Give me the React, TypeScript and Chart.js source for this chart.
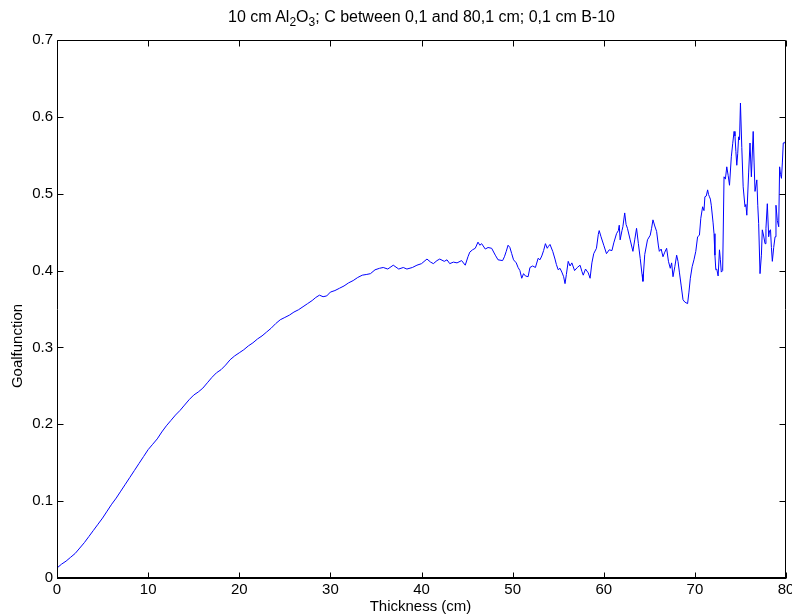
import { useEffect, useRef } from "react";
import { Chart, registerables } from "chart.js";

Chart.register(...registerables);

// Goal function versus carbon thickness
const thicknessCm = [
  0, 0.5, 1, 1.5, 2, 2.5, 3, 3.5, 4, 4.5, 5, 5.5, 6, 6.5, 7, 7.5, 8, 8.5, 9, 9.5,
  10, 10.5, 11, 11.5, 12, 12.5, 13, 13.5, 14, 14.5, 15, 15.5, 16, 16.5, 17, 17.5, 18, 18.5, 19, 19.5,
  20, 20.5, 21, 21.5, 22, 22.5, 23, 23.5, 24, 24.5, 25, 25.5, 26, 26.5, 27, 27.5, 28, 28.4, 28.8, 29.2,
  29.6, 30, 30.5, 31, 31.5, 32, 32.5, 33, 33.5, 34, 34.4, 34.9, 35.4, 35.8, 36.3, 36.9, 37.5, 38, 38.4, 39,
  39.5, 40, 40.6, 41, 41.3, 41.7, 42, 42.5, 42.8, 43.1, 43.5, 43.9, 44.4, 44.8, 45.1, 45.3, 45.6, 45.9, 46.2, 46.4,
  46.6, 47, 47.3, 47.7, 48.1, 48.4, 48.9, 49.1, 49.3, 49.5, 49.7, 49.9, 50.1, 50.4, 50.6, 50.8, 51, 51.2, 51.4, 51.7,
  51.9, 52.2, 52.5, 52.8, 53, 53.2, 53.4, 53.6, 53.8, 53.9, 54.1, 54.4, 54.65, 54.8, 55, 55.2, 55.4, 55.6, 55.75, 55.9,
  56.1, 56.3, 56.5, 56.8, 57.1, 57.4, 57.6, 57.75, 58, 58.3, 58.5, 58.7, 58.9, 59.2, 59.4, 59.5, 59.7, 60, 60.3, 60.6,
  60.9, 61.1, 61.4, 61.6, 61.7, 61.8, 62, 62.1, 62.3, 62.45, 62.6, 62.9, 63.2, 63.4, 63.6, 63.8, 64, 64.2, 64.3, 64.5,
  64.8, 65.1, 65.25, 65.4, 65.6, 65.8, 66, 66.1, 66.3, 66.5, 66.7, 66.9, 67.1, 67.3, 67.45, 67.6, 67.8, 68, 68.15, 68.3,
  68.5, 68.7, 68.9, 69.2, 69.35, 69.5, 69.7, 69.9, 70.1, 70.3, 70.5, 70.65, 70.85, 71, 71.1, 71.25, 71.4, 71.5, 71.6, 71.7,
  71.8, 72, 72.1, 72.2, 72.3, 72.4, 72.55, 72.7, 72.8, 72.9, 73.05, 73.2, 73.35, 73.5, 73.65, 73.8, 74, 74.15, 74.3, 74.4,
  74.5, 74.6, 74.7, 74.8, 74.9, 75, 75.15, 75.3, 75.5, 75.6, 75.7, 75.9, 76.05, 76.2, 76.4, 76.5, 76.6, 76.8, 76.9, 77,
  77.15, 77.3, 77.4, 77.55, 77.7, 77.8, 77.95, 78.1, 78.2, 78.3, 78.4, 78.5, 78.65, 78.8, 78.9, 79.05, 79.2, 79.3, 79.4, 79.5,
  79.6, 79.7, 79.85, 80,
];

const goalValues = [
  0.013, 0.018, 0.022, 0.027, 0.032, 0.039, 0.046, 0.054, 0.062, 0.07, 0.078, 0.087, 0.096, 0.104, 0.113, 0.122, 0.131, 0.14, 0.149, 0.158,
  0.167, 0.174, 0.181, 0.19, 0.198, 0.205, 0.212, 0.218, 0.225, 0.232, 0.238, 0.242, 0.247, 0.254, 0.261, 0.267, 0.271, 0.277, 0.284, 0.289,
  0.293, 0.297, 0.302, 0.306, 0.311, 0.315, 0.32, 0.325, 0.331, 0.336, 0.339, 0.342, 0.346, 0.349, 0.353, 0.357, 0.361, 0.365, 0.368, 0.366,
  0.367, 0.372, 0.374, 0.377, 0.38, 0.384, 0.387, 0.391, 0.394, 0.395, 0.396, 0.401, 0.403, 0.404, 0.402, 0.407, 0.402, 0.404, 0.402, 0.404,
  0.407, 0.409, 0.415, 0.411, 0.409, 0.413, 0.415, 0.412, 0.414, 0.409, 0.411, 0.41, 0.413, 0.407, 0.418, 0.424, 0.427, 0.429, 0.437, 0.433,
  0.435, 0.428, 0.43, 0.429, 0.42, 0.414, 0.413, 0.418, 0.425, 0.433, 0.43, 0.422, 0.414, 0.41, 0.404, 0.4, 0.39, 0.396, 0.393, 0.392,
  0.404, 0.406, 0.404, 0.416, 0.414, 0.419, 0.426, 0.435, 0.429, 0.431, 0.434, 0.425, 0.415, 0.408, 0.401, 0.403, 0.398, 0.392, 0.383, 0.395,
  0.412, 0.406, 0.41, 0.4, 0.404, 0.407, 0.399, 0.394, 0.402, 0.397, 0.39, 0.41, 0.422, 0.429, 0.447, 0.452, 0.444, 0.433, 0.422, 0.427,
  0.426, 0.436, 0.448, 0.452, 0.459, 0.44, 0.452, 0.457, 0.475, 0.46, 0.455, 0.44, 0.425, 0.44, 0.455, 0.435, 0.416, 0.395, 0.386, 0.421,
  0.44, 0.446, 0.455, 0.466, 0.458, 0.451, 0.432, 0.425, 0.428, 0.418, 0.424, 0.429, 0.412, 0.403, 0.41, 0.392, 0.405, 0.42, 0.412, 0.398,
  0.38, 0.362, 0.359, 0.357, 0.372, 0.39, 0.405, 0.414, 0.425, 0.444, 0.446, 0.468, 0.483, 0.478, 0.496, 0.497, 0.505, 0.499, 0.496, 0.493,
  0.485, 0.462, 0.448, 0.42, 0.401, 0.402, 0.393, 0.427, 0.414, 0.398, 0.4, 0.522, 0.519, 0.535, 0.524, 0.511, 0.548, 0.565, 0.581, 0.575,
  0.555, 0.537, 0.552, 0.574, 0.57, 0.618, 0.56, 0.509, 0.483, 0.486, 0.472, 0.527, 0.566, 0.522, 0.581, 0.54, 0.503, 0.518, 0.485, 0.461,
  0.396, 0.42, 0.453, 0.445, 0.435, 0.455, 0.487, 0.444, 0.452, 0.453, 0.43, 0.412, 0.43, 0.444, 0.485, 0.465, 0.457, 0.535, 0.525, 0.52,
  0.54, 0.566, 0.567, 0.563,
];

const xTicks = [0, 10, 20, 30, 40, 50, 60, 70, 80];
const xTickLabels = ["0", "10", "20", "30", "40", "50", "60", "70", "80"];
const yTicks = [0, 0.1, 0.2, 0.3, 0.4, 0.5, 0.6, 0.7];
const yTickLabels = ["0", "0.1", "0.2", "0.3", "0.4", "0.5", "0.6", "0.7"];

const xAxisTitle = "Thickness (cm)";
const yAxisTitle = "Goalfunction";

const FONT = "'Liberation Sans', Arial, Helvetica, sans-serif";
const TICK_LEN = 6;

// Boxed axes with inward ticks on all four sides
const boxAxes = {
  id: "boxAxes",
  afterDatasetsDraw(chart: any) {
    const { ctx, chartArea: a, scales } = chart;
    const xs = scales.x;
    const ys = scales.y;
    ctx.save();
    ctx.strokeStyle = "#000";
    ctx.fillStyle = "#000";
    ctx.lineWidth = 1;

    const L = Math.round(a.left) + 0.5;
    const R = Math.round(a.right) - 0.5;
    const T = Math.round(a.top) + 0.5;
    const B = Math.round(a.bottom) + 0.5;

    ctx.beginPath();
    ctx.moveTo(L, T);
    ctx.lineTo(R, T);
    ctx.lineTo(R, B);
    ctx.moveTo(L, T);
    ctx.lineTo(L, B);
    ctx.stroke();
    // heavier bottom axis line
    ctx.fillRect(Math.round(a.left), Math.round(a.bottom) - 1, Math.round(a.right) - Math.round(a.left), 2);

    ctx.beginPath();
    xTicks.forEach((v) => {
      const px = Math.round(xs.getPixelForValue(v)) + 0.5;
      ctx.moveTo(px, B);
      ctx.lineTo(px, B - TICK_LEN);
      ctx.moveTo(px, T);
      ctx.lineTo(px, T + TICK_LEN);
    });
    yTicks.forEach((v) => {
      const py = Math.round(ys.getPixelForValue(v)) + 0.5;
      ctx.moveTo(L, py);
      ctx.lineTo(L + TICK_LEN, py);
      ctx.moveTo(R, py);
      ctx.lineTo(R - TICK_LEN, py);
    });
    ctx.stroke();

    ctx.font = `15px ${FONT}`;
    ctx.textAlign = "center";
    ctx.textBaseline = "top";
    xTicks.forEach((v, i) => {
      ctx.fillText(xTickLabels[i], xs.getPixelForValue(v), a.bottom + 4);
    });
    ctx.textAlign = "right";
    ctx.textBaseline = "middle";
    yTicks.forEach((v, i) => {
      ctx.fillText(yTickLabels[i], a.left - 4, ys.getPixelForValue(v));
    });

    ctx.textAlign = "center";
    ctx.textBaseline = "middle";
    ctx.fillText(xAxisTitle, (a.left + a.right) / 2 - 1, a.bottom + 29);
    ctx.translate(18, 346);
    ctx.rotate(-Math.PI / 2);
    ctx.fillText(yAxisTitle, 0, 0);
    ctx.restore();
  },
};

export default function App() {
  const canvasRef = useRef<HTMLCanvasElement | null>(null);

  useEffect(() => {
    document.body.style.margin = "0";
    const canvas = canvasRef.current;
    if (!canvas) return;
    const points = thicknessCm.map((x, i) => ({ x, y: goalValues[i] }));
    const chart = new Chart(canvas, {
      type: "line",
      data: {
        datasets: [
          {
            data: points,
            borderColor: "#0000ff",
            borderWidth: 1,
            pointRadius: 0,
            tension: 0,
            fill: false,
          },
        ],
      },
      options: {
        animation: false,
        responsive: false,
        devicePixelRatio: 1,
        layout: { padding: { left: 57, right: 6, top: 40, bottom: 38 } },
        scales: {
          x: { type: "linear", min: 0, max: 80, display: false },
          y: { type: "linear", min: 0, max: 0.7, display: false },
        },
        plugins: {
          legend: { display: false },
          tooltip: { enabled: false },
          title: { display: false },
        },
      },
      plugins: [boxAxes],
    });
    return () => chart.destroy();
  }, []);

  return (
    <div style={{ position: "relative", width: 792, height: 616, background: "#fff" }}>
      <canvas ref={canvasRef} width={792} height={616} style={{ display: "block", width: 792, height: 616 }} />
      <div
        style={{
          position: "absolute",
          left: 57,
          width: 729,
          top: 8,
          textAlign: "center",
          fontFamily: FONT,
          fontSize: 16,
          lineHeight: "18px",
          color: "#000",
          whiteSpace: "nowrap",
        }}
      >
        10 cm Al<span style={{ fontSize: 12, verticalAlign: -4 }}>2</span>O
        <span style={{ fontSize: 12, verticalAlign: -4 }}>3</span>; C between 0,1 and 80,1 cm; 0,1 cm B-10
      </div>
    </div>
  );
}
